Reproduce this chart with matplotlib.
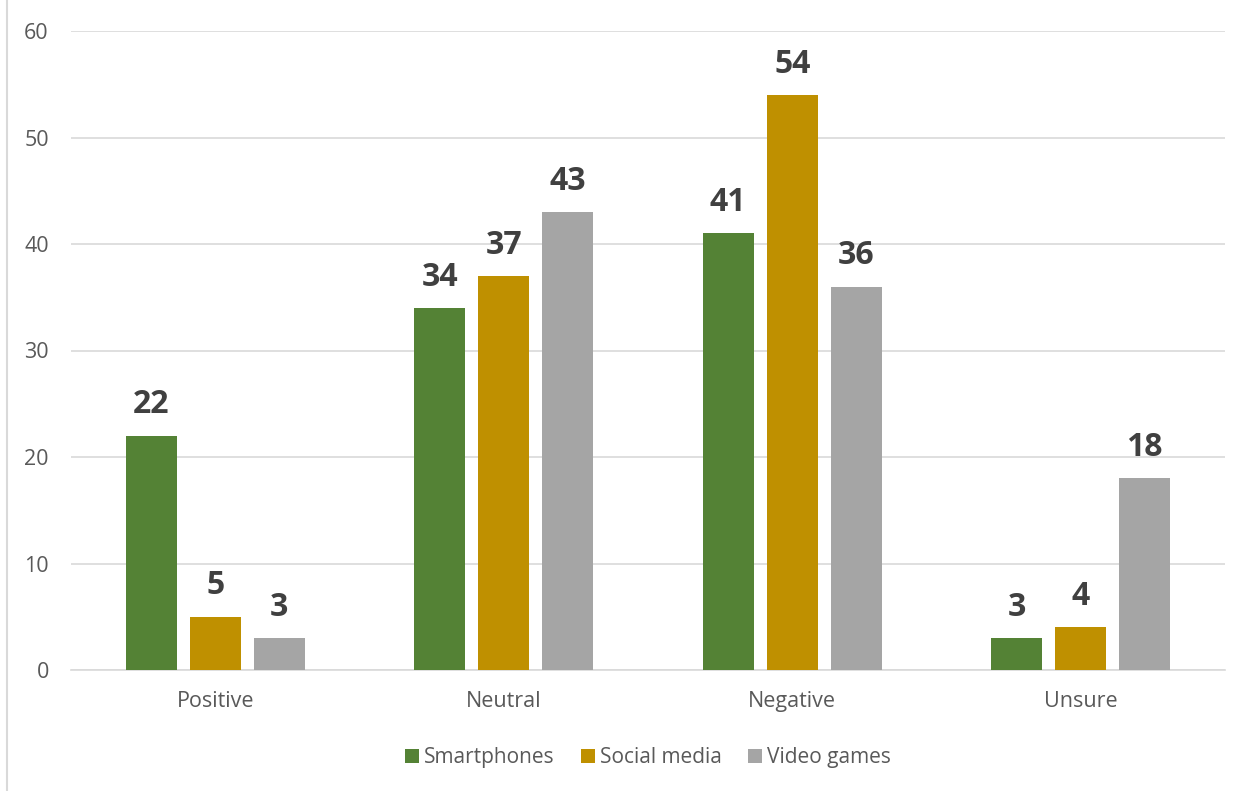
import numpy as np
import matplotlib.pyplot as plt
from matplotlib.lines import Line2D

categories = ['Positive', 'Neutral', 'Negative', 'Unsure']
series_names = ['Smartphones', 'Social media', 'Video games']
smartphones = [22, 34, 41, 3]
social_media = [5, 37, 54, 4]
video_games = [3, 43, 36, 18]
colors = ['#548235', '#BF9000', '#A5A5A5']

plt.rcParams['font.family'] = ['Open Sans', 'DejaVu Sans']

fig = plt.figure(figsize=(12.53, 7.91), dpi=100)
ax = fig.add_axes([71 / 1253, 1 - 670 / 791, 1154 / 1253, 639 / 791])

x = np.arange(len(categories))
width = 0.177
offset = 0.222
for i, (name, vals) in enumerate(zip(series_names, [smartphones, social_media, video_games])):
    pos = x + (i - 1) * offset
    ax.bar(pos, vals, width, color=colors[i], label=name, zorder=3)
    for p, v in zip(pos, vals):
        ax.text(p, v + 1.35, str(v), ha='center', va='bottom', fontsize=23,
                fontweight='bold', color='#404040')

ax.set_xlim(-0.5, 3.5)
ax.set_ylim(0, 60)
ax.set_yticks(range(0, 61, 10))
ax.yaxis.grid(True, color='#D9D9D9', linewidth=1.2, zorder=0)
for s in ['top', 'right', 'left']:
    ax.spines[s].set_visible(False)
ax.spines['bottom'].set_color('#D9D9D9')
ax.spines['bottom'].set_linewidth(1.2)
ax.tick_params(axis='both', length=0, labelsize=15.5, colors='#595959')
ax.tick_params(axis='y', pad=16)
ax.tick_params(axis='x', pad=15)
ax.set_xticks(x)
ax.set_xticklabels(categories)

ax.legend(loc='center', bbox_to_anchor=(0.5, -0.137), ncol=3, frameon=False,
          fontsize=15, labelcolor='#595959', handlelength=0.67, handleheight=0.67,
          handletextpad=0.25, columnspacing=1.25)

# thin border line on the left edge
fig.add_artist(Line2D([7 / 1253, 7 / 1253], [0, 1], transform=fig.transFigure,
                      color='#D9D9D9', linewidth=1.5))

fig.savefig('out.png', dpi=100)
